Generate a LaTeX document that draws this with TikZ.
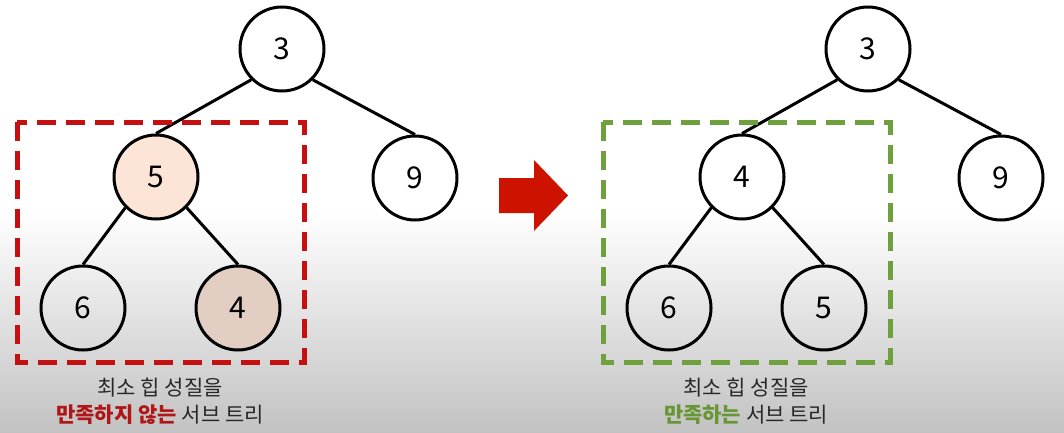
\documentclass[tikz,border=0pt]{standalone}
\usepackage{fontspec}
\newfontfamily\kr{Noto Sans CJK KR}
\definecolor{boxred}{RGB}{196,16,16}
\definecolor{boxgreen}{RGB}{110,160,62}
\definecolor{arrowred}{RGB}{206,18,0}
\definecolor{txtred}{RGB}{176,22,22}
\definecolor{txtgreen}{RGB}{104,150,52}
\definecolor{txtgray}{RGB}{40,40,40}
\definecolor{peachfill}{RGB}{252,228,214}
\definecolor{tanfill}{RGB}{226,206,195}
\definecolor{bgbottom}{RGB}{194,194,194}
\tikzset{
  hnode/.style={circle,draw=black,line width=3pt,minimum size=84pt,inner sep=0pt,
    font=\kr\fontsize{30}{30}\selectfont},
  conn/.style={line width=3pt,black},
  subbox/.style={line width=5pt,dash pattern=on 19pt off 10pt},
  captext/.style={font=\kr\fontsize{21}{24}\selectfont,text=txtgray,inner sep=0pt}
}
\begin{document}
\begin{tikzpicture}[x=1pt,y=-1pt]
\useasboundingbox (0,0) rectangle (1064,433);
\fill[white] (0,0) rectangle (1064,212);
\shade[top color=white,bottom color=bgbottom] (0,211) rectangle (1064,433);

% left tree
\node[hnode] (a3) at (282,49) {3};
\node[hnode,fill=peachfill] (a5) at (156,177) {5};
\node[hnode] (a9) at (415,178) {9};
\node[hnode] (a6) at (83,308) {6};
\node[hnode,fill=tanfill] (a4) at (238,308) {4};
\draw[conn] (a3.south west) -- (a5.north);
\draw[conn] (a3.south east) -- (a9.north);
\draw[conn] (a5.south west) -- (a6.north);
\draw[conn] (a5.south east) -- (a4.north);
\draw[subbox,draw=boxred] (17,122) rectangle (304,362);
\node[captext] (la) at (160,388) {최소 힙 성질을};
\node[captext] (lb) at (160,415) {{\bfseries\color{txtred}만족하지 않는} 서브 트리};

% arrow
\fill[arrowred] (499,178) -- (534,178) -- (534,160) -- (568,195.5) -- (534,231) -- (534,213) -- (499,213) -- cycle;

% right tree
\node[hnode] (b3) at (868,49) {3};
\node[hnode] (b4) at (742,177) {4};
\node[hnode] (b9) at (1001,178) {9};
\node[hnode] (b6) at (669,308) {6};
\node[hnode] (b5) at (824,308) {5};
\draw[conn] (b3.south west) -- (b4.north);
\draw[conn] (b3.south east) -- (b9.north);
\draw[conn] (b4.south west) -- (b6.north);
\draw[conn] (b4.south east) -- (b5.north);
\draw[subbox,draw=boxgreen] (603,122) rectangle (890,362);
\node[captext] (ra) at (746,388) {최소 힙 성질을};
\node[captext] (rb) at (746,415) {{\bfseries\color{txtgreen}만족하는} 서브 트리};
\end{tikzpicture}
\end{document}
